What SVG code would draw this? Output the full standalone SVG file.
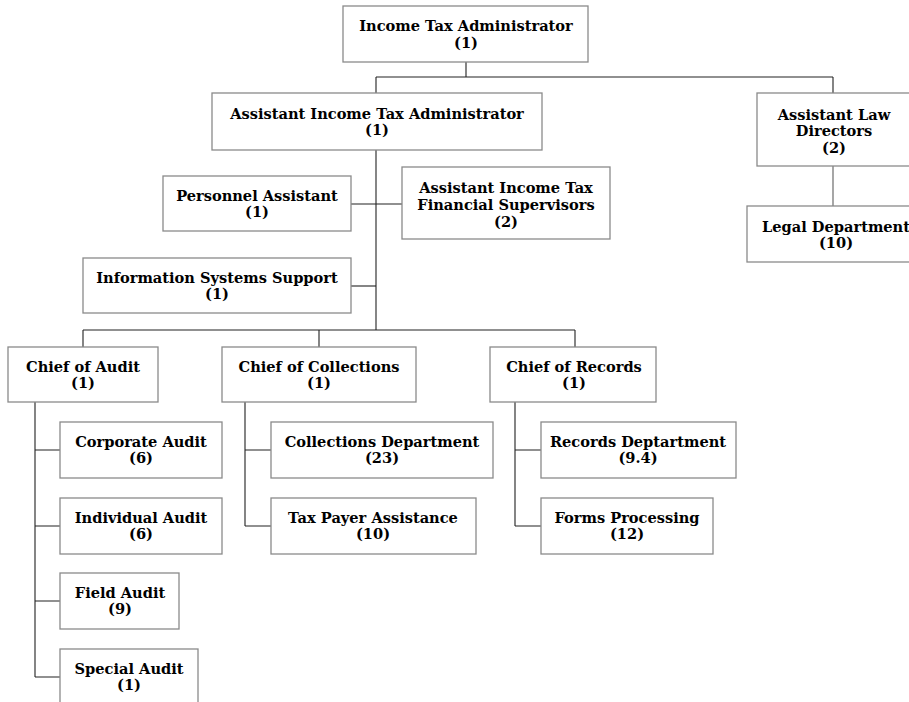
<svg xmlns="http://www.w3.org/2000/svg" width="909" height="702" viewBox="0 0 909 702">
  <style>
    .box { fill: #ffffff; stroke: #8a8a8a; stroke-width: 1.3; }
    .lbl { font-family: "DejaVu Serif", "Liberation Serif", serif; font-weight: bold; font-size: 14.6px; fill: #000; text-anchor: middle; }
    .wire { fill: none; stroke: #222; stroke-width: 1.1; }
    .wire-g { fill: none; stroke: #777; stroke-width: 1.3; }
  </style>
  <rect x="0" y="0" width="909" height="702" fill="#ffffff"/>

  <!-- connectors -->
  <g id="connectors">
    <path class="wire" d="M466,62 V77 M376,77 H833 M376,77 V93 M833,77 V93"/>
    <path class="wire" d="M376,150 V330"/>
    <path class="wire" d="M351,204 H402"/>
    <path class="wire" d="M351,286 H376"/>
    <path class="wire" d="M83,330 H575 M83,330 V347 M319,330 V347 M575,330 V347"/>
    <path class="wire-g" d="M833,166 V206"/>
    <path class="wire" d="M35,402 V677 M35,450 H60 M35,526 H60 M35,601 H60 M35,677 H60"/>
    <path class="wire" d="M245,402 V526 M245,450 H271 M245,526 H271"/>
    <path class="wire" d="M515,402 V526 M515,450 H541 M515,526 H541"/>
  </g>

  <g id="income-tax-administrator">
    <rect class="box" x="343" y="6" width="245" height="56"/>
    <text class="lbl" x="466" y="31">Income Tax Administrator</text>
    <text class="lbl" x="466" y="48">(1)</text>
  </g>

  <g id="assistant-income-tax-administrator">
    <rect class="box" x="212" y="93" width="330" height="57"/>
    <text class="lbl" x="377" y="119">Assistant Income Tax Administrator</text>
    <text class="lbl" x="377" y="135">(1)</text>
  </g>

  <g id="assistant-law-directors">
    <rect class="box" x="757" y="93" width="160" height="73"/>
    <text class="lbl" x="834" y="120">Assistant Law</text>
    <text class="lbl" x="834" y="136">Directors</text>
    <text class="lbl" x="834" y="153">(2)</text>
  </g>

  <g id="legal-department">
    <rect class="box" x="747" y="206" width="170" height="56"/>
    <text class="lbl" x="836" y="232">Legal Department</text>
    <text class="lbl" x="836" y="248">(10)</text>
  </g>

  <g id="personnel-assistant">
    <rect class="box" x="163" y="176" width="188" height="55"/>
    <text class="lbl" x="257" y="201">Personnel Assistant</text>
    <text class="lbl" x="257" y="217">(1)</text>
  </g>

  <g id="financial-supervisors">
    <rect class="box" x="402" y="167" width="208" height="72"/>
    <text class="lbl" x="506" y="193">Assistant Income Tax</text>
    <text class="lbl" x="506" y="210">Financial Supervisors</text>
    <text class="lbl" x="506" y="227">(2)</text>
  </g>

  <g id="information-systems-support">
    <rect class="box" x="83" y="258" width="268" height="55"/>
    <text class="lbl" x="217" y="283">Information Systems Support</text>
    <text class="lbl" x="217" y="299">(1)</text>
  </g>

  <g id="chief-of-audit">
    <rect class="box" x="8" y="347" width="150" height="55"/>
    <text class="lbl" x="83" y="372">Chief of Audit</text>
    <text class="lbl" x="83" y="388">(1)</text>
  </g>

  <g id="chief-of-collections">
    <rect class="box" x="222" y="347" width="194" height="55"/>
    <text class="lbl" x="319" y="372">Chief of Collections</text>
    <text class="lbl" x="319" y="388">(1)</text>
  </g>

  <g id="chief-of-records">
    <rect class="box" x="490" y="347" width="166" height="55"/>
    <text class="lbl" x="574" y="372">Chief of Records</text>
    <text class="lbl" x="574" y="388">(1)</text>
  </g>

  <g id="corporate-audit">
    <rect class="box" x="60" y="422" width="162" height="56"/>
    <text class="lbl" x="141" y="447">Corporate Audit</text>
    <text class="lbl" x="141" y="463">(6)</text>
  </g>

  <g id="individual-audit">
    <rect class="box" x="60" y="498" width="162" height="56"/>
    <text class="lbl" x="141" y="523">Individual Audit</text>
    <text class="lbl" x="141" y="539">(6)</text>
  </g>

  <g id="field-audit">
    <rect class="box" x="60" y="573" width="119" height="56"/>
    <text class="lbl" x="120" y="598">Field Audit</text>
    <text class="lbl" x="120" y="614">(9)</text>
  </g>

  <g id="special-audit">
    <rect class="box" x="60" y="649" width="138" height="60"/>
    <text class="lbl" x="129" y="674">Special Audit</text>
    <text class="lbl" x="129" y="690">(1)</text>
  </g>

  <g id="collections-department">
    <rect class="box" x="271" y="422" width="222" height="56"/>
    <text class="lbl" x="382" y="447">Collections Department</text>
    <text class="lbl" x="382" y="463">(23)</text>
  </g>

  <g id="tax-payer-assistance">
    <rect class="box" x="271" y="498" width="205" height="56"/>
    <text class="lbl" x="373" y="523">Tax Payer Assistance</text>
    <text class="lbl" x="373" y="539">(10)</text>
  </g>

  <g id="records-department">
    <rect class="box" x="541" y="422" width="195" height="56"/>
    <text class="lbl" x="638" y="447">Records Deptartment</text>
    <text class="lbl" x="638" y="463">(9.4)</text>
  </g>

  <g id="forms-processing">
    <rect class="box" x="541" y="498" width="172" height="56"/>
    <text class="lbl" x="627" y="523">Forms Processing</text>
    <text class="lbl" x="627" y="539">(12)</text>
  </g>
</svg>
